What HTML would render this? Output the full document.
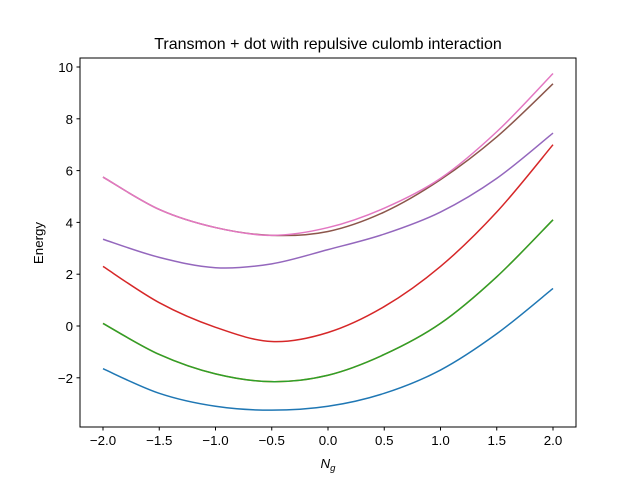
<!DOCTYPE html>
<html><head><meta charset="utf-8"><style>
body{margin:0;background:#fff}
svg{display:block;font-family:"Liberation Sans","DejaVu Sans",sans-serif}
</style></head><body>
<svg id="chart" width="640" height="480">
<rect width="640" height="480" fill="#fff"/>
<text x="328" y="49" text-anchor="middle" font-size="16">Transmon + dot with repulsive culomb interaction</text>
<g id="plot"></g>
<rect x="80" y="58" width="496" height="369" fill="none" stroke="#000" stroke-width="1"/>
<text x="328" y="468" text-anchor="middle" font-size="13.3" font-style="italic">N<tspan font-size="9.5" dy="3">g</tspan></text>
<text transform="translate(43,243) rotate(-90)" text-anchor="middle" font-size="13.3">Energy</text>
</svg>
<script>
const xs=[-2,-1.5,-1,-0.5,0,0.5,1,1.5,2];
const xTicks=[-2,-1.5,-1,-0.5,0,0.5,1,1.5,2];
const xTickLabels=["−2.0","−1.5","−1.0","−0.5","0.0","0.5","1.0","1.5","2.0"];
const yTicks=[-2,0,2,4,6,8,10];
const yTickLabels=["−2","0","2","4","6","8","10"];
const blue=[-1.65,-2.6,-3.1,-3.25,-3.1,-2.6,-1.7,-0.3,1.45];
const orange=[0.1,-1.1,-1.85,-2.15,-1.9,-1.1,0.1,1.9,4.1];
const green=[0.1,-1.1,-1.85,-2.15,-1.9,-1.1,0.1,1.9,4.1];
const red=[2.3,0.9,-0.05,-0.6,-0.25,0.75,2.3,4.4,7.0];
const purple=[3.35,2.65,2.25,2.4,2.95,3.55,4.4,5.7,7.45];
const brown=[5.75,4.5,3.8,3.5,3.65,4.4,5.65,7.3,9.35];
const pink=[5.75,4.5,3.8,3.5,3.8,4.55,5.7,7.5,9.75];
const series=[["blue",blue,"#1f77b4"],["orange",orange,"#ff7f0e"],["green",green,"#2ca02c"],["red",red,"#d62728"],["purple",purple,"#9467bd"],["brown",brown,"#8c564b"],["pink",pink,"#e377c2"]];
const X=v=>328+v*112.5;
const Y=v=>326-v*25.9;
const NS="http://www.w3.org/2000/svg";
const g=document.getElementById('plot');
function mk(t,a){const e=document.createElementNS(NS,t);for(const k in a)e.setAttribute(k,a[k]);g.appendChild(e);return e;}
xTicks.forEach((t,i)=>{
 const l=mk('line',{x1:X(t),x2:X(t),y1:427,y2:430.5,stroke:'#000'});
 
 
 const tx=mk('text',{x:X(t),y:445,'text-anchor':'middle','font-size':'13.3'});tx.textContent=xTickLabels[i];
 
 
});
yTicks.forEach((t,i)=>{
 const l=mk('line',{x1:76.5,x2:80,y1:Y(t),y2:Y(t),stroke:'#000'});
 
 
 const tx=mk('text',{x:73,y:Y(t)+5,'text-anchor':'end','font-size':'13.3'});tx.textContent=yTickLabels[i];
 
 
});
function path(vals){
 const p=xs.map((x,i)=>[X(x),Y(vals[i])]);
 let d='M'+p[0][0]+','+p[0][1];
 for(let i=0;i<p.length-1;i++){
  const p0=p[i-1]||p[i],p1=p[i],p2=p[i+1],p3=p[i+2]||p2;
  const c1=[p1[0]+(p2[0]-p0[0])/6,p1[1]+(p2[1]-p0[1])/6];
  const c2=[p2[0]-(p3[0]-p1[0])/6,p2[1]-(p3[1]-p1[1])/6];
  d+=` C${c1[0]},${c1[1]} ${c2[0]},${c2[1]} ${p2[0]},${p2[1]}`;
 }
 return d;
}
series.forEach(([n,v,c])=>{
 const e=mk('path',{d:path(v),fill:'none',stroke:c,'stroke-width':'1.5'});
 
 
});
</script>
</body></html>
